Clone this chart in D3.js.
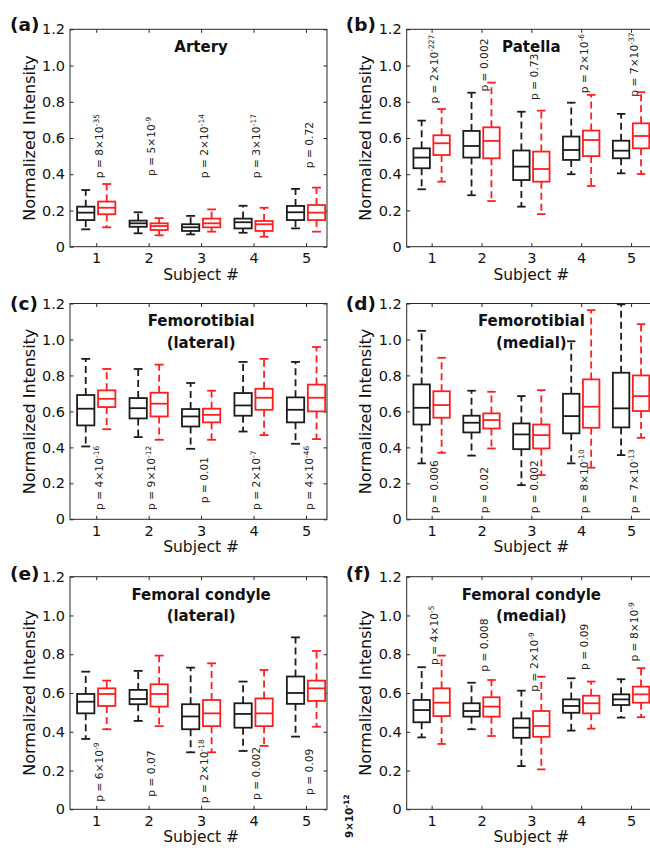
<!DOCTYPE html>
<html><head><meta charset="utf-8">
<script src="https://cdn.jsdelivr.net/npm/d3@7"></script>
<style>body{margin:0;background:#fff}svg{display:block}</style>
</head><body>
<svg id="chart" width="650" height="848"></svg>
<script>
// ---------------- DATA ----------------
const subjects = [1, 2, 3, 4, 5];
const yTickValues = [0, 0.2, 0.4, 0.6, 0.8, 1.0, 1.2];
const yTickLabels = ["0", "0.2", "0.4", "0.6", "0.8", "1.0", "1.2"];
const panelLetters = ["(a)", "(b)", "(c)", "(d)", "(e)", "(f)"];
const panelTitles = [["Artery"], ["Patella"], ["Femorotibial", "(lateral)"], ["Femorotibial", "(medial)"], ["Femoral condyle", "(lateral)"], ["Femoral condyle", "(medial)"]];
const yAxisTitle = "Normalized Intensity";
const xAxisTitle = "Subject #";

// each entry: [lower whisker, Q1, median, Q3, upper whisker]
const arteryBlack = [[0.096,0.147,0.188,0.221,0.313],[0.074,0.110,0.129,0.144,0.190],[0.068,0.087,0.107,0.124,0.170],[0.077,0.101,0.135,0.155,0.226],[0.101,0.147,0.190,0.225,0.319]];
const arteryRed   = [[0.107,0.179,0.215,0.249,0.346],[0.063,0.092,0.114,0.129,0.158],[0.083,0.107,0.129,0.155,0.206],[0.055,0.087,0.124,0.142,0.215],[0.083,0.147,0.188,0.230,0.326]];
const patellaBlack = [[0.317,0.433,0.492,0.543,0.696],[0.284,0.492,0.556,0.639,0.850],[0.221,0.368,0.442,0.531,0.745],[0.400,0.479,0.534,0.608,0.795],[0.405,0.488,0.530,0.585,0.733]];
const patellaRed   = [[0.359,0.506,0.571,0.615,0.760],[0.252,0.488,0.584,0.659,0.906],[0.180,0.359,0.429,0.525,0.751],[0.335,0.500,0.589,0.641,0.838],[0.401,0.543,0.611,0.681,0.853]];
const ftLatBlack = [[0.405,0.522,0.615,0.691,0.892],[0.457,0.561,0.618,0.674,0.836],[0.392,0.516,0.572,0.613,0.758],[0.488,0.576,0.633,0.702,0.875],[0.420,0.539,0.609,0.678,0.875]];
const ftLatRed   = [[0.501,0.624,0.670,0.717,0.836],[0.442,0.572,0.643,0.704,0.860],[0.442,0.539,0.581,0.615,0.715],[0.468,0.609,0.676,0.726,0.892],[0.446,0.600,0.676,0.749,0.958]];
const ftMedBlack = [[0.311,0.527,0.620,0.750,1.048],[0.354,0.483,0.537,0.576,0.715],[0.190,0.390,0.472,0.533,0.685],[0.311,0.478,0.574,0.698,0.990],[0.357,0.511,0.617,0.815,1.195]];
const ftMedRed   = [[0.370,0.565,0.635,0.712,0.898],[0.394,0.505,0.552,0.589,0.709],[0.246,0.394,0.468,0.527,0.718],[0.287,0.509,0.626,0.778,1.163],[0.453,0.602,0.685,0.800,1.085]];
const fcLatBlack = [[0.363,0.495,0.555,0.595,0.710],[0.456,0.542,0.569,0.616,0.714],[0.294,0.413,0.479,0.542,0.731],[0.301,0.421,0.492,0.547,0.659],[0.375,0.544,0.600,0.685,0.887]];
const fcLatRed   = [[0.413,0.533,0.595,0.624,0.664],[0.429,0.530,0.595,0.645,0.793],[0.294,0.429,0.495,0.564,0.753],[0.327,0.429,0.495,0.572,0.719],[0.426,0.559,0.624,0.664,0.817]];
const fcMedBlack = [[0.371,0.449,0.512,0.564,0.733],[0.413,0.478,0.507,0.547,0.653],[0.223,0.369,0.421,0.469,0.612],[0.406,0.498,0.533,0.567,0.676],[0.473,0.538,0.567,0.593,0.671]];
const fcMedRed   = [[0.337,0.481,0.550,0.624,0.793],[0.378,0.478,0.530,0.578,0.667],[0.206,0.374,0.430,0.507,0.684],[0.416,0.495,0.547,0.586,0.659],[0.475,0.550,0.593,0.633,0.728]];

// p-value annotations ("^" marks the exponent) and the data value where each label starts
const arteryP  = ["8×10^-35", "5×10^-9", "2×10^-14", "3×10^-17", "0.72"];
const arteryPAt = [0.378, 0.39, 0.378, 0.378, 0.433];
const patellaP = ["2×10^-227", "0.002", "0.73", "2×10^-6", "7×10^-37"];
const patellaPAt = [0.79, 0.856, 0.81, 0.847, 0.828];
const ftLatP = ["4×10^-16", "9×10^-12", "0.01", "2×10^-7", "4×10^-46"];
const ftLatPAt = [0.052, 0.052, 0.089, 0.052, 0.052];
const ftMedP = ["0.006", "0.02", "0.002", "8×10^-10", "7×10^-13"];
const ftMedPAt = [0.033, 0.033, 0.033, 0.033, 0.033];
const fcLatP = ["6×10^-9", "0.07", "2×10^-18", "0.002", "0.09"];
const fcLatPAt = [0.039, 0.065, 0.031, 0.048, 0.074];
const fcMedP = ["4×10^-5", "0.008", "2×10^-9", "0.09", "8×10^-9"];
const fcMedPAt = [0.745, 0.71, 0.607, 0.719, 0.762];
const strayLabel = "9×10^-12";

// ---------------- LAYOUT ----------------
const FONT = "DejaVu Sans, Verdana, sans-serif";
const AXC = "#262626", BLACK = "#1c1c1c", RED = "#ff1e1e";
const cols = [{x0: 70, x1: 327, dom: [0.5, 5.4], letterX: 10}, {x0: 406.7, x1: 656, dom: [0.5, 5.5], letterX: 345.7}];
const rows = [{top: 29.3, bottom: 246.7, letterY: 31, xlabOff: 33},
              {top: 303.5, bottom: 519.3, letterY: 309.5, xlabOff: 32.5},
              {top: 576.7, bottom: 809.3, letterY: 579.5, xlabOff: 32.5}];
const panels = [
  {black: arteryBlack, red: arteryRed, p: arteryP, pAt: arteryPAt},
  {black: patellaBlack, red: patellaRed, p: patellaP, pAt: patellaPAt},
  {black: ftLatBlack, red: ftLatRed, p: ftLatP, pAt: ftLatPAt},
  {black: ftMedBlack, red: ftMedRed, p: ftMedP, pAt: ftMedPAt},
  {black: fcLatBlack, red: fcLatRed, p: fcLatP, pAt: fcLatPAt},
  {black: fcMedBlack, red: fcMedRed, p: fcMedP, pAt: fcMedPAt}
];

const svg = d3.select("#chart").style("font-family", FONT);

function writeExp(textSel, str, mainSize, supSize, supShift) {
  const parts = str.split("^");
  textSel.append("tspan").attr("font-size", mainSize).text(parts[0]);
  if (parts.length > 1) {
    textSel.append("tspan").attr("font-size", supSize).attr("dy", -supShift).text(parts[1]);
  }
}

panels.forEach((P, k) => {
  const c = cols[k % 2], r = rows[Math.floor(k / 2)];
  const x = d3.scaleLinear().domain(c.dom).range([c.x0, c.x1]);
  const y = d3.scaleLinear().domain([0, 1.2]).range([r.bottom, r.top]);
  const g = svg.append("g");

  // axes (MATLAB-style inward ticks on all sides)
  const left = g.append("g").attr("transform", `translate(${c.x0},0)`)
    .call(d3.axisLeft(y).tickValues(yTickValues).tickFormat((d, i) => yTickLabels[i]).tickSize(-3.5).tickPadding(5));
  const right = g.append("g").attr("transform", `translate(${c.x1},0)`)
    .call(d3.axisRight(y).tickValues(yTickValues).tickFormat("").tickSize(-3.5));
  const bottom = g.append("g").attr("transform", `translate(0,${r.bottom})`)
    .call(d3.axisBottom(x).tickValues(subjects).tickFormat(d3.format("d")).tickSize(-3.5).tickPadding(6.3));
  const top = g.append("g").attr("transform", `translate(0,${r.top})`)
    .call(d3.axisTop(x).tickValues(subjects).tickFormat("").tickSize(-3.5));
  [left, right, bottom, top].forEach(a => {
    a.select(".domain").remove();
    a.selectAll("line").attr("stroke", AXC).attr("stroke-width", 1);
    a.selectAll("text").attr("fill", "#111").attr("font-size", 14.5).attr("font-family", FONT);
  });
  g.append("rect").attr("x", c.x0).attr("y", r.top).attr("width", c.x1 - c.x0).attr("height", r.bottom - r.top)
    .attr("fill", "none").attr("stroke", AXC).attr("stroke-width", 1);

  // boxplots
  const bw = x(0.165) - x(0), cw = x(0.085) - x(0);
  [[P.black, -0.2, BLACK], [P.red, 0.2, RED]].forEach(([data, off, col]) => {
    const bg = g.append("g").attr("stroke", col).attr("stroke-width", 1.8).attr("fill", "none");
    data.forEach((d, i) => {
      const cx = x(subjects[i] + off);
      const [lo, q1, med, q3, hi] = d;
      bg.append("line").attr("x1", cx).attr("x2", cx).attr("y1", y(q3)).attr("y2", y(hi)).attr("stroke-dasharray", "7,4");
      bg.append("line").attr("x1", cx).attr("x2", cx).attr("y1", y(q1)).attr("y2", y(lo)).attr("stroke-dasharray", "7,4");
      bg.append("line").attr("x1", cx - cw).attr("x2", cx + cw).attr("y1", y(hi)).attr("y2", y(hi));
      bg.append("line").attr("x1", cx - cw).attr("x2", cx + cw).attr("y1", y(lo)).attr("y2", y(lo));
      bg.append("rect").attr("x", cx - bw).attr("width", 2 * bw).attr("y", y(q3)).attr("height", y(q1) - y(q3)).attr("fill", "#fff");
      bg.append("line").attr("x1", cx - bw).attr("x2", cx + bw).attr("y1", y(med)).attr("y2", y(med));
    });
  });

  // p-value labels
  P.p.forEach((lab, i) => {
    const t = g.append("text").attr("transform", `translate(${x(subjects[i]) + 6.8},${y(P.pAt[i])}) rotate(-90)`)
      .attr("fill", "#222").attr("font-family", FONT);
    writeExp(t, "p = " + lab, 10.7, 7.5, 4);
  });

  // titles
  panelTitles[k].forEach((line, j) => {
    g.append("text").attr("x", x(3)).attr("y", r.top + 22.8 + j * 21.7).attr("text-anchor", "middle")
      .attr("font-weight", "bold").attr("font-size", 15).attr("fill", "#111").text(line);
  });

  // axis titles
  g.append("text").attr("transform", `translate(${c.x0 - 35.5},${(r.top + r.bottom) / 2}) rotate(-90)`)
    .attr("text-anchor", "middle").attr("font-size", 16).attr("fill", "#111").text(yAxisTitle);
  g.append("text").attr("x", x(3)).attr("y", r.bottom + r.xlabOff).attr("text-anchor", "middle")
    .attr("font-size", 15.5).attr("fill", "#111").text(xAxisTitle);

  // panel letter
  g.append("text").attr("x", c.letterX).attr("y", r.letterY).attr("font-weight", "bold")
    .attr("font-size", 18.5).attr("fill", "#111").text(panelLetters[k]);
});

// stray rotated label between the bottom panels
const st = svg.append("text").attr("transform", "translate(352.5,838) rotate(-90)")
  .attr("font-weight", "bold").attr("fill", "#111");
writeExp(st, strayLabel, 10.3, 7.5, 4);
</script>
</body></html>
